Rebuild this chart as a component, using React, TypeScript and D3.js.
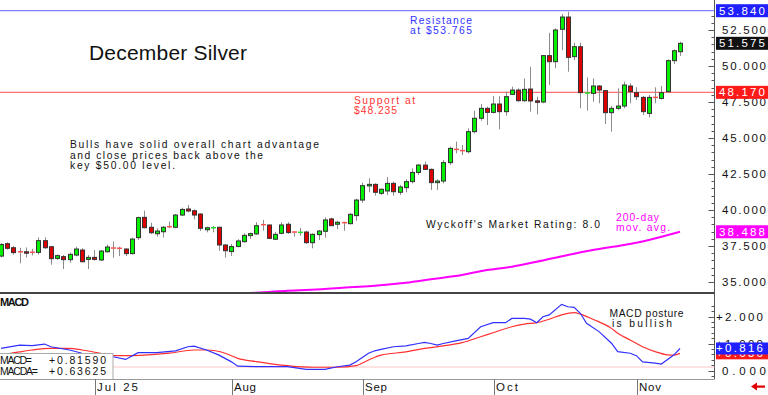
import React from "react";
import * as d3 from "d3";

const W = 768;
const H = 395;

const opens = [36.8,37.66,37.38,37.12,37.1,37.08,37.06,37.87,37.45,36.64,36.76,36.55,36.87,37.22,36.57,36.71,36.53,37.1,37.4,37.36,37.29,36.97,38.08,39.49,38.8,38.35,38.49,38.86,38.8,39.65,40.07,39.95,39.72,38.63,38.75,38.8,37.57,37.11,37.46,37.8,38.22,38.34,39.02,38.96,37.97,38.38,39.01,38.49,38.43,38.47,37.73,38.29,38.52,39.38,39.01,39.14,39.05,39.61,40.69,41.67,41.78,41.16,41.32,41.85,41.23,41.55,41.97,42.61,43.12,42.82,41.9,42.01,43.29,44.23,44.15,44.05,45.44,46.37,47.06,46.78,47.36,46.83,48.03,48.33,47.59,48.4,47.58,47.5,50.72,50.3,52.55,53.4,50.65,51.34,48.1,48.1,48.61,48.29,46.76,47.06,47.22,48.61,48.15,47.82,46.71,47.84,47.75,48.22,50.37,50.99];
const highs = [37.7,37.75,37.5,37.38,37.4,37.3,38.1,38.1,37.5,36.92,36.88,37.04,37.45,37.34,36.87,37.22,37.22,37.6,37.8,37.45,37.34,38.08,39.54,39.95,39.12,38.73,38.89,39.19,39.72,40.16,40.35,40.04,39.77,38.84,38.89,38.84,37.64,37.64,37.97,38.38,38.43,39.15,39.31,38.98,38.47,39.15,39.15,38.52,38.75,38.57,38.38,38.61,39.49,39.47,39.24,39.19,39.77,40.79,41.9,42.2,41.85,41.5,42.29,41.97,41.74,42.13,42.89,43.2,43.36,42.89,42.13,43.47,44.4,44.75,44.51,45.67,46.9,47.36,47.18,47.92,47.9,48.22,48.56,48.45,49.14,49.95,47.87,50.76,52.3,52.62,53.61,53.765,51.62,51.62,49.2,49.14,48.68,48.33,47.22,48.45,48.91,48.8,48.52,47.92,47.99,48.52,48.61,50.46,51.16,51.69];
const lows = [36.7,37.25,36.9,36.3,36.7,36.85,36.9,37.3,36.2,36.53,35.9,36.34,36.78,36.36,35.9,36.48,36.46,37.04,36.69,36.8,36.8,36.92,37.92,38.73,38.33,38.15,38.1,38.73,38.73,39.58,39.84,39.35,38.54,38.45,38.45,37.17,36.69,36.81,37.41,37.73,37.99,38.27,38.57,37.99,37.92,38.31,38.34,38.15,38.22,37.64,37.34,37.92,38.08,38.89,38.66,38.56,39.0,39.26,40.5,41.23,41.0,41.04,41.04,41.0,41.04,41.23,41.85,42.43,42.78,41.39,41.39,41.85,43.12,43.93,43.82,43.93,45.32,46.2,45.9,46.71,45.6,46.55,47.99,47.52,47.52,46.83,46.64,47.41,48.7,49.84,51.11,49.6,50.4,47.06,46.9,47.52,47.41,45.97,45.44,46.94,47.06,47.41,47.64,46.6,46.43,47.41,47.68,48.15,50.14,50.7];
const closes = [37.6,37.34,37.04,37.08,37.0,37.05,37.87,37.38,36.62,36.83,36.55,36.92,37.29,36.41,36.71,36.57,37.15,37.43,37.32,37.32,36.97,37.98,39.47,38.77,38.42,38.54,38.8,38.82,39.65,40.04,39.93,39.65,38.73,38.77,38.79,37.57,37.17,37.46,37.85,38.24,38.36,38.91,38.94,38.03,38.31,38.96,38.43,38.45,38.47,37.73,38.31,38.54,39.31,38.91,39.15,39.1,39.7,40.69,41.69,41.78,41.23,41.44,41.85,41.27,41.6,41.97,42.61,43.12,42.82,41.9,42.01,43.29,44.28,44.19,44.1,45.44,46.37,47.06,46.78,47.36,46.83,47.87,48.33,47.59,48.38,47.57,47.48,50.72,50.3,52.5,53.4,50.6,51.34,48.15,48.14,48.61,48.33,46.76,47.06,47.22,48.68,48.22,47.87,46.83,47.82,47.8,48.15,50.37,51.06,51.575];

const macdIdx = [0,3,5,7,8,11,13,16,18,20,22,25,28,30,31,33,35,37,38,41,44,46,49,52,54,56,57,59,60,61,63,65,67,68,69,70,71,73,75,77,79,81,82,84,85,86,87,88,90,91,92,93,94,96,98,99,101,102,103,105,106,108,109];
const macdVals = [0.82,0.94,0.92,0.98,0.88,0.76,0.64,0.54,0.51,0.41,0.66,0.66,0.73,0.88,0.9,0.76,0.57,0.32,0.16,0.14,0.14,0.14,0.04,0.04,0.14,0.2,0.32,0.64,0.73,0.78,0.88,0.91,1.0,1.04,1.0,0.94,1.0,1.1,1.19,1.62,1.77,1.77,1.93,1.93,1.9,1.77,1.99,2.06,2.45,2.36,2.34,2.12,1.75,1.44,1.01,0.7,0.64,0.55,0.32,0.27,0.24,0.57,0.816];
const signalIdx = [0,3,5,8,11,13,16,18,21,27,31,33,36,38,41,44,46,50,54,57,59,61,65,68,71,74,77,79,82,84,86,88,90,92,93,95,98,99,101,103,105,107,108,109];
const signalVals = [0.57,0.69,0.76,0.82,0.82,0.76,0.64,0.55,0.55,0.64,0.76,0.76,0.64,0.45,0.33,0.23,0.18,0.12,0.12,0.18,0.39,0.57,0.69,0.82,0.91,1.03,1.25,1.4,1.62,1.72,1.77,1.9,2.06,2.14,2.09,1.9,1.56,1.38,1.13,0.88,0.7,0.58,0.57,0.636];

const maIdx = [28,34,41,46,52,56,60,65,69,74,78,82,86,91,95,100,104,109];
const maVals = [34.05,34.2,34.26,34.4,34.51,34.63,34.74,34.95,35.19,35.49,35.83,36.06,36.41,36.88,37.22,37.57,37.92,38.488];

const priceTicks = [35, 37.5, 40, 42.5, 45, 47.5, 50, 52.5];
const macdTicks = [0, 1, 2];
const monthIdx = [15, 37, 58, 79, 102];
const monthLabels = ["Jul 25", "Aug", "Sep", "Oct", "Nov"];

const resistance = 53.84;
const support = 48.17;
const lastPrice = 51.575;
const lastMA = 38.488;
const lastMacd = 0.816;
const lastSignal = 0.636;

const FONT = "'Liberation Sans', Arial, sans-serif";

function T(props: {
  x: number; y: number; text: string; size: number; fill?: string;
  per?: number; len?: number; weight?: string | number; anchor?: string;
}) {
  const { x, y, text, size, fill = "#111", per, len, weight = "normal", anchor = "start" } = props;
  const L = len ?? (per ? per * text.length - per * 0.3 : undefined);
  return (
    <text x={x} y={y} fontSize={size} fill={fill} fontFamily={FONT} fontWeight={weight}
      textAnchor={anchor} textLength={L} lengthAdjust="spacing">{text}</text>
  );
}

export default function App() {
  const x = d3.scaleLinear().domain([0, 109]).range([1, 680]);
  const y = d3.scaleLinear().domain([35, 52.5]).range([282, 30]);
  const my = d3.scaleLinear().domain([0, 2]).range([370.5, 316.5]);

  const axisX = 714.5;
  const mainBottom = 293;
  const macdBottom = 379;

  const maLine = d3.line<number>().x((d, i) => x(maIdx[i])).y((d) => y(d)).curve(d3.curveMonotoneX);
  const macdLine = d3.line<number>().x((d, i) => x(macdIdx[i])).y((d) => my(d));
  const sigLine = d3.line<number>().x((d, i) => x(signalIdx[i])).y((d) => my(d)).curve(d3.curveMonotoneX);

  const minorPrice = d3.range(35, 54, 0.5);
  const minorMacd = d3.range(-0.2, 2.6, 0.2);

  const box = (val: number, yy: number, bg: string, fg: string, key: string) => (
    <g key={key}>
      <rect x={716} y={yy - 6.5} width={52} height={13} fill={bg} />
      <T x={719} y={yy + 4} text={val.toFixed(3)} size={11.5} fill={fg} len={46} />
    </g>
  );

  return (
    <svg width={W} height={H} style={{ position: "absolute", left: 0, top: 0, background: "#fff" }}>
      <defs>
        <clipPath id="mainClip"><rect x={0} y={0} width={axisX} height={mainBottom - 1} /></clipPath>
        <clipPath id="macdClip"><rect x={0} y={mainBottom + 1} width={axisX} height={macdBottom - mainBottom - 1} /></clipPath>
      </defs>
      <rect x={0} y={0} width={W} height={H} fill="#fff" />

      {/* resistance / support lines */}
      <line x1={0} x2={axisX} y1={y(resistance)} y2={y(resistance)} stroke="#7f7fff" strokeWidth={1.2} />
      <line x1={0} x2={axisX} y1={y(support)} y2={y(support)} stroke="#ff7070" strokeWidth={1.2} />

      {/* title & annotations */}
      <T x={89} y={59.5} text="December Silver" size={21} fill="#111" len={158} />
      <T x={70} y={148.3} text="Bulls have solid overall chart advantage" size={10.3} len={249} />
      <T x={70} y={158.5} text="and close prices back above the" size={10.3} len={193} />
      <T x={70} y={168.7} text="key $50.00 level." size={10.3} len={105} />
      <T x={410} y={23.5} text="Resistance" size={10.3} fill="#3333ff" len={62} />
      <T x={410} y={33.5} text="at $53.765" size={10.3} fill="#3333ff" len={62} />
      <T x={354} y={103.5} text="Support at" size={10.3} fill="#ff3333" len={61} />
      <T x={354} y={113.5} text="$48.235" size={10.3} fill="#ff3333" len={43} />
      <T x={426} y={228} text="Wyckoff's Market Rating: 8.0" size={10.3} len={174} />
      <T x={616} y={220.5} text="200-day" size={10.3} fill="#ff00ff" len={43} />
      <T x={616} y={231} text="mov. avg." size={10.3} fill="#ff00ff" len={54} />

      {/* 200-day MA */}
      <g clipPath="url(#mainClip)">
        <path d={maLine(maVals) || ""} fill="none" stroke="#ff00ff" strokeWidth={2} />
      </g>

      {/* candles */}
      {opens.map((o, i) => {
        const c = closes[i];
        const cx = Math.round(x(i)) + 0.5;
        const up = c >= o;
        const yo = y(o), yc = y(c);
        const top = Math.min(yo, yc);
        const h = Math.abs(yo - yc);
        return (
          <g key={i}>
            <line x1={cx} x2={cx} y1={y(highs[i])} y2={y(lows[i])} stroke="#8c8c8c" strokeWidth={1} />
            {h < 1.2 ? (
              <line x1={cx - 2.5} x2={cx + 2.5} y1={(yo + yc) / 2} y2={(yo + yc) / 2}
                stroke={up ? "#22dd22" : "#ff5050"} strokeWidth={1.5} />
            ) : (
              <rect x={cx - 2} y={top} width={4} height={h} fill={up ? "#00f000" : "#dd0000"} stroke="#333" strokeWidth={1} />
            )}
          </g>
        );
      })}

      {/* right price axis */}
      <line x1={axisX} x2={axisX} y1={0} y2={macdBottom} stroke="#555" strokeWidth={1} />
      {minorPrice.filter((v) => y(v) > 2 && y(v) < mainBottom - 2).map((v) => (
        <line key={"mp" + v} x1={axisX - 3} x2={axisX} y1={Math.round(y(v)) + 0.5} y2={Math.round(y(v)) + 0.5} stroke="#555" />
      ))}
      {priceTicks.map((v) => (
        <g key={"pt" + v}>
          <line x1={axisX - 6} x2={axisX} y1={Math.round(y(v)) + 0.5} y2={Math.round(y(v)) + 0.5} stroke="#555" />
          <T x={722} y={y(v) + 4} text={v.toFixed(3)} size={11.5} fill="#111" len={44} />
        </g>
      ))}
      {box(resistance, y(resistance), "#1f1fff", "#fff", "b1")}
      {box(lastPrice, y(lastPrice), "#111", "#fff", "b2")}
      {box(support, y(support), "#ff1a1a", "#fff", "b3")}
      {box(lastMA, y(lastMA), "#ff00ff", "#fff", "b4")}

      {/* panel separator */}
      <line x1={0} x2={axisX} y1={mainBottom} y2={mainBottom} stroke="#444" strokeWidth={2} />

      {/* MACD panel */}
      <T x={0} y={306} text="MACD" size={11} weight="bold" fill="#111" len={29} />
      <line x1={0} x2={axisX} y1={367} y2={367} stroke="#ffc4c4" strokeWidth={1} />
      <g clipPath="url(#macdClip)">
        <path d={sigLine(signalVals) || ""} fill="none" stroke="#ff3030" strokeWidth={1.2} />
        <path d={macdLine(macdVals) || ""} fill="none" stroke="#3030ff" strokeWidth={1.2} />
      </g>
      <T x={609.5} y={316.5} text="MACD posture" size={10.3} len={74} />
      <T x={612} y={326.5} text="is bullish" size={10.3} len={60} />

      {minorMacd.filter((v) => my(v) > mainBottom + 3 && my(v) < macdBottom - 2).map((v) => (
        <line key={"mm" + v} x1={axisX - 3} x2={axisX} y1={Math.round(my(v)) + 0.5} y2={Math.round(my(v)) + 0.5} stroke="#555" />
      ))}
      {macdTicks.map((v) => (
        <g key={"mt" + v}>
          <line x1={axisX - 6} x2={axisX} y1={Math.round(my(v)) + 0.5} y2={Math.round(my(v)) + 0.5} stroke="#555" />
          <T x={v === 0 ? 722 : 716} y={my(v) + 4} text={(v === 0 ? "" : "+") + v.toFixed(3)} size={11.5} fill="#111" len={v === 0 ? 44 : 47} />
        </g>
      ))}
      <g>
        <rect x={716} y={my(lastSignal) - 6} width={52} height={12} fill="#ff1a1a" />
        <T x={716} y={my(lastSignal) + 4} text={"+" + lastSignal.toFixed(3)} size={11.5} fill="#fff" len={47} />
        <rect x={716} y={my(lastMacd) - 6} width={52} height={12} fill="#1f1fff" />
        <T x={716} y={my(lastMacd) + 4} text={"+" + lastMacd.toFixed(3)} size={11.5} fill="#fff" len={47} />
      </g>

      {/* MACD value box */}
      <rect x={-1} y={353.5} width={114} height={26} fill="#fff" stroke="#aaa" strokeWidth={1} />
      <T x={0} y={364} text="MACD=" size={10.5} len={32} />
      <T x={49} y={364} text={"+" + "0.81590"} size={10.5} len={57} />
      <T x={0} y={375} text="MACDA=" size={10.5} len={38} />
      <T x={49} y={375} text={"+" + "0.63625"} size={10.5} len={57} />

      {/* bottom date axis */}
      <line x1={0} x2={axisX} y1={macdBottom + 0.5} y2={macdBottom + 0.5} stroke="#999" strokeWidth={1} />
      {monthIdx.map((mi, k) => {
        const px = Math.round(x(mi)) + 1.5;
        return (
          <g key={"m" + k}>
            <line x1={px} x2={px} y1={macdBottom} y2={H} stroke="#777" strokeWidth={1} />
            <T x={px + 1.5} y={390.5} text={monthLabels[k]} size={11.5} fill="#111"
              len={monthLabels[k].length === 3 ? 22 : 41} />
          </g>
        );
      })}

      {/* bottom-right arrow */}
      <polygon points="751,386.5 757,382.5 757,390.5" fill="#e00000" />
      <rect x={756} y={385.5} width={9} height={2.2} fill="#e00000" />
    </svg>
  );
}
